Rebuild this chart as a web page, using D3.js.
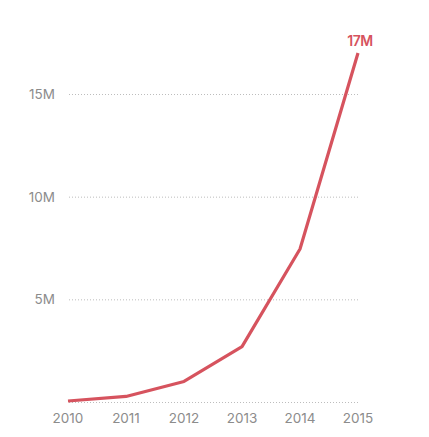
<!DOCTYPE html>
<html lang="en">
<head>
<meta charset="UTF-8">
<title>Growth</title>
<script src="https://cdn.jsdelivr.net/npm/d3@7/dist/d3.min.js"></script>
<style>
    body{margin:0;background:#fff;}
    svg text{font-family:"Inter","Noto Sans",sans-serif;}
</style>
</head>
<body>
<div id="main"><svg></svg></div>
<script>
    // values (millions)
    var years=[2010,2011,2012,2013,2014,2015];
    var values=[0.05,0.27,1.0,2.7,7.45,17];
    var yTicks=[0,5,10,15];
    var endLabel="17M";

    var width=429,height=437;
    var svg=d3.select("#main").select("svg")
        .attr("width",width)
        .attr("height",height);

    var x=d3.scaleLinear().domain([2010,2015]).range([68,358]);
    var y=d3.scaleLinear().domain([0,15]).range([402,94]);

    // dotted grid
    var grid=svg.append("g");
    grid.selectAll("line").data(yTicks).enter().append("line")
        .attr("x1",69)
        .attr("x2",359)
        .attr("y1",function(d){return y(d)+0.5;})
        .attr("y2",function(d){return y(d)+0.5;})
        .attr("stroke","#bdbdbd")
        .attr("stroke-width",1)
        .attr("stroke-dasharray","1,2");

    // y labels (no 0)
    svg.append("g").selectAll("text").data(yTicks.filter(function(d){return d>0;})).enter().append("text")
        .attr("x",55)
        .attr("y",function(d){return y(d)+5;})
        .attr("text-anchor","end")
        .attr("fill","#8c8c8c")
        .attr("font-size",13.5)
        .text(function(d){return d+"M";});

    // x labels
    svg.append("g").selectAll("text").data(years).enter().append("text")
        .attr("x",function(d){return x(d);})
        .attr("y",423)
        .attr("text-anchor","middle")
        .attr("fill","#8c8c8c")
        .attr("font-size",13.5)
        .text(function(d){return d;});

    var line=d3.line()
        .x(function(d,i){return x(years[i]);})
        .y(function(d){return y(d);});

    svg.append("path")
        .datum(values)
        .attr("d",line)
        .attr("fill","none")
        .attr("stroke","#d6535e")
        .attr("stroke-width",3.2)
        .attr("stroke-linejoin","round");

    svg.append("text")
        .attr("x",x(2015)+2)
        .attr("y",y(values[5])-7)
        .attr("text-anchor","middle")
        .attr("fill","#d6535e")
        .attr("font-size",14)
        .attr("font-weight",600)
        .attr("letter-spacing","-0.5")
        .text(endLabel);
</script>
</body>
</html>
